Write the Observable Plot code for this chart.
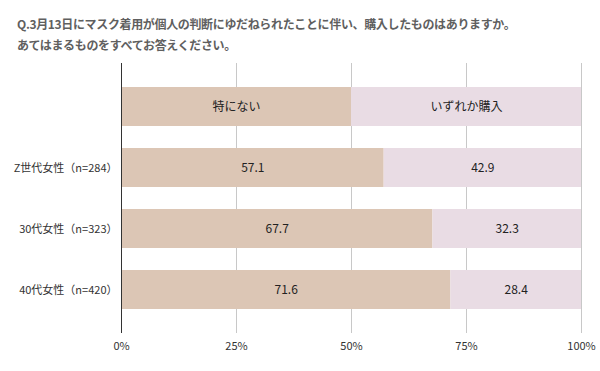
<!DOCTYPE html>
<html><head><meta charset="utf-8">
<script src="https://cdn.jsdelivr.net/npm/d3@7"></script>
<script src="https://cdn.jsdelivr.net/npm/@observablehq/plot@0.6"></script>
<style>
body{margin:0;background:#fff;font-family:"Noto Sans CJK JP","Noto Sans",sans-serif;}
#title{height:60px;box-sizing:border-box;padding:13px 0 0 17px;font-size:12px;font-weight:bold;color:#5f5f5f;line-height:21px;letter-spacing:-0.35px;}
</style></head>
<body>
<div id="title">Q.3月13日にマスク着用が個人の判断にゆだねられたことに伴い、購入したものはありますか。<br>あてはまるものをすべてお答えください。</div>
<div id="chart"></div>
<script>
const categories = ["Z世代女性（n=284）", "30代女性（n=323）", "40代女性（n=420）"];
const series = ["特にない", "いずれか購入"];
const noneValues = [57.1, 67.7, 71.6];
const buyValues = [42.9, 32.3, 28.4];
const xTicks = [0, 25, 50, 75, 100];
const legendKey = "legend";

const rows = [];
categories.forEach((c, i) => {
  rows.push({cat: c, series: series[0], value: noneValues[i], label: noneValues[i].toFixed(1)});
  rows.push({cat: c, series: series[1], value: buyValues[i], label: buyValues[i].toFixed(1)});
});
const legendRows = series.map(s => ({cat: legendKey, series: s, value: 100 / series.length, label: s}));
const all = legendRows.concat(rows);

const chart = Plot.plot({
  width: 600,
  height: 311,
  marginTop: 3,
  marginBottom: 38,
  marginLeft: 121,
  marginRight: 19,
  style: {fontFamily: '"Noto Sans CJK JP","Noto Sans",sans-serif', fontSize: "11px", color: "#333", background: "#fff"},
  x: {domain: [0, 100], ticks: xTicks, tickFormat: d => d + "%", tickSize: 0, tickPadding: 9, label: null},
  y: {domain: [legendKey].concat(categories), padding: 0.355, tickSize: 0, tickPadding: 4, label: null, tickFormat: d => d === legendKey ? "" : d},
  color: {domain: series, range: ["#dcc6b5", "#e9dce4"]},
  marks: [
    Plot.ruleX(xTicks.filter(d => d > 0), {stroke: "#c8c8c8", strokeWidth: 1}),
    Plot.barX(all, Plot.stackX({x: "value", y: "cat", fill: "series", z: "series", order: series})),
    Plot.ruleX([0], {stroke: "#333", strokeWidth: 1}),
    Plot.text(all, Plot.stackX({x: "value", y: "cat", z: "series", text: "label", order: series, fill: "#222", fontSize: 12}))
  ]
});
document.getElementById("chart").appendChild(chart);
</script>
</body></html>
